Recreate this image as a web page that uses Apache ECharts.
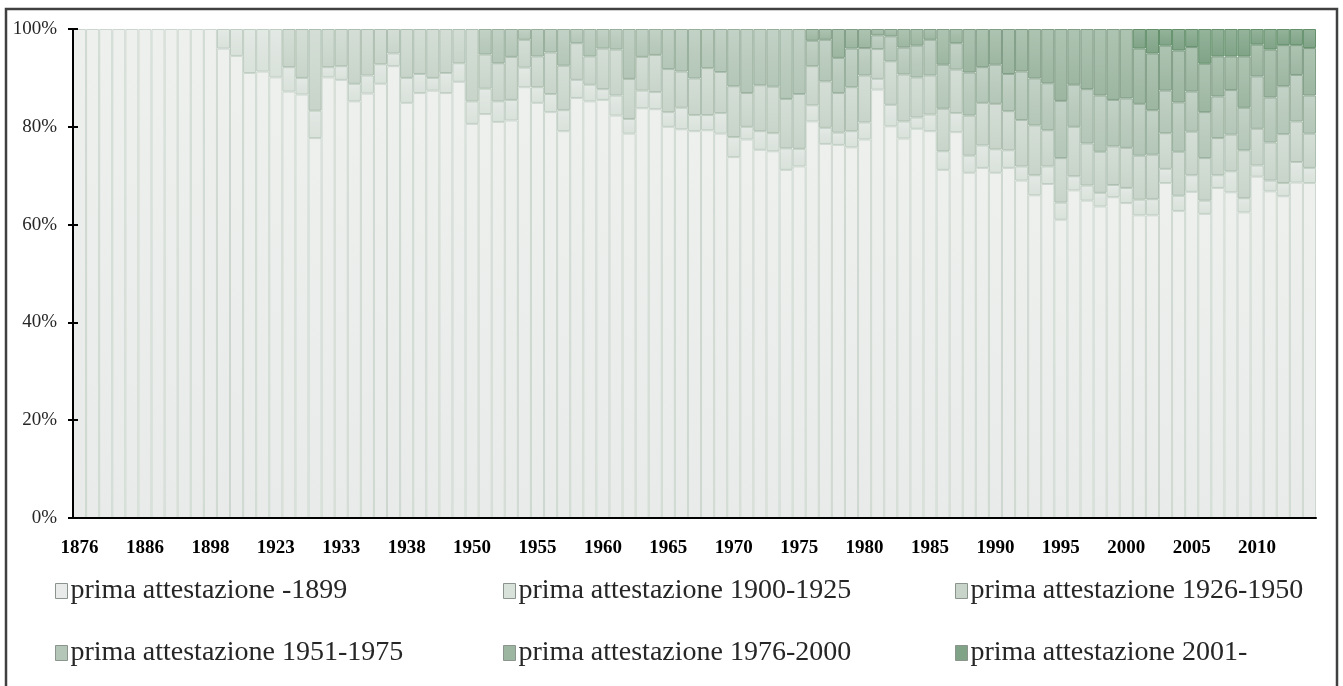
<!DOCTYPE html>
<html>
<head>
<meta charset="utf-8">
<script src="https://cdn.jsdelivr.net/npm/echarts@6/dist/echarts.min.js"></script>
<style>
html,body{margin:0;padding:0;background:#fff;}
#chart{width:1343px;height:686px;}
</style>
</head>
<body>
<div id="chart"></div>
<script>
// Categories (years); only every 5th label is visible in the original
var years = [
  '1876','1878','1880','1882','1884','1886','1888','1890','1892','1895',
  '1898','1902','1908','1913','1918','1923','1925','1927','1929','1931',
  '1933','1934','1935','1936','1937','1938','1940','1945','1947','1949',
  '1950','1951','1952','1953','1954','1955','1956','1957','1958','1959',
  '1960','1961','1962','1963','1964','1965','1966','1967','1968','1969',
  '1970','1971','1972','1973','1974','1975','1976','1977','1978','1979',
  '1980','1981','1982','1983','1984','1985','1986','1987','1988','1989',
  '1990','1991','1992','1993','1994','1995','1996','1997','1998','1999',
  '2000','2001','2002','2003','2004','2005','2006','2007','2008','2009',
  '2010','2011','2012','2013','2014'
];

var seriesNames = [
  'prima attestazione -1899',
  'prima attestazione 1900-1925',
  'prima attestazione 1926-1950',
  'prima attestazione 1951-1975',
  'prima attestazione 1976-2000',
  'prima attestazione 2001-'
];

var s1899 = [
  100,100,100,100,100,100,100,100,100,100,
  100,96.0,94.5,91.0,91.3,90.1,87.2,86.6,77.7,90.1,
  89.6,85.2,86.8,88.8,92.4,84.9,86.9,87.4,86.9,89.2,
  80.6,82.6,81.0,81.3,88.1,84.9,83.0,79.1,85.9,85.2,
  85.5,82.3,78.6,83.8,83.6,80.0,79.5,79.1,79.3,78.6,
  73.8,77.4,75.3,75.0,71.2,71.9,81.1,76.5,76.3,75.8,
  77.4,87.6,80.1,77.6,79.6,79.1,71.2,78.9,70.6,71.6,
  70.6,71.6,69.0,66.0,68.3,61.0,67.0,64.9,63.7,65.6,
  64.4,61.9,61.9,68.5,62.8,66.7,62.2,67.5,66.6,62.5,
  69.8,66.8,65.8,68.6,68.5
];
var s1925 = [
  0,0,0,0,0,0,0,0,0,0,
  0,4.0,5.5,9.0,8.7,9.9,5.0,3.4,5.6,2.1,
  2.8,3.6,3.7,4.0,2.6,5.1,3.9,2.6,4.1,3.8,
  4.6,5.2,4.2,4.2,4.0,3.2,3.7,4.3,3.7,3.4,
  2.2,4.1,3.0,3.6,3.5,3.0,4.4,3.3,3.1,4.2,
  4.1,2.6,3.8,3.7,4.4,3.6,3.3,3.3,2.5,3.3,
  3.5,2.2,4.4,3.5,2.3,3.4,3.8,3.9,3.5,4.6,
  4.8,3.6,2.9,4.1,3.6,3.5,2.9,3.1,2.8,2.5,
  3.1,3.2,3.3,2.9,3.1,3.4,2.7,2.6,4.3,2.9,
  2.3,2.2,2.7,4.2,3.1
];
var s1950 = [
  0,0,0,0,0,0,0,0,0,0,
  0,0,0,0,0,0,7.8,10.0,16.7,7.8,
  7.6,11.2,9.5,7.2,5.0,10.0,9.2,10.0,9.0,7.0,
  14.8,7.0,7.8,8.8,5.7,6.3,8.5,9.1,7.5,5.8,
  8.3,9.4,8.2,6.9,7.6,8.8,7.4,7.5,9.6,8.4,
  10.4,6.9,9.4,9.5,10.1,11.2,8.0,9.5,8.1,9.0,
  9.6,6.1,8.9,9.6,8.2,8.0,8.7,8.9,8.2,8.7,
  9.3,8.0,9.5,10.2,7.4,9.1,10.1,8.6,8.4,7.9,
  8.2,9.0,9.1,7.3,9.0,8.9,8.7,7.6,7.5,9.8,
  7.5,7.8,10.0,8.3,7.0
];
var s1975 = [
  0,0,0,0,0,0,0,0,0,0,
  0,0,0,0,0,0,0,0,0,0,
  0,0,0,0,0,0,0,0,0,0,
  0,5.2,7.0,5.7,2.2,5.6,4.8,7.5,2.9,5.6,
  4.0,4.2,10.2,5.7,5.3,8.2,8.7,10.1,8.0,8.8,
  11.7,13.1,11.5,11.8,14.3,13.3,5.2,8.5,7.2,7.9,
  5.6,2.8,5.1,5.5,6.5,7.3,9.0,5.4,8.8,7.3,
  8.0,7.6,9.9,9.6,9.6,11.7,8.6,11.1,11.5,9.5,
  10.1,10.6,9.1,8.7,10.1,8.2,9.4,8.5,9.1,8.7,
  10.7,9.2,9.8,9.5,7.8
];
var s2000 = [
  0,0,0,0,0,0,0,0,0,0,
  0,0,0,0,0,0,0,0,0,0,
  0,0,0,0,0,0,0,0,0,0,
  0,0,0,0,0,0,0,0,0,0,
  0,0,0,0,0,0,0,0,0,0,
  0,0,0,0,0,0,2.4,2.2,5.9,4.0,
  3.9,1.3,1.5,3.8,3.4,2.2,7.3,2.9,8.9,7.8,
  7.3,9.2,8.7,10.1,11.1,14.7,11.4,12.3,13.6,14.5,
  14.2,11.3,11.6,9.2,10.6,9.1,9.9,8.2,6.9,10.5,
  6.5,9.8,8.4,6.1,9.7
];
var s2001 = [
  0,0,0,0,0,0,0,0,0,0,
  0,0,0,0,0,0,0,0,0,0,
  0,0,0,0,0,0,0,0,0,0,
  0,0,0,0,0,0,0,0,0,0,
  0,0,0,0,0,0,0,0,0,0,
  0,0,0,0,0,0,0,0,0,0,
  0,0,0,0,0,0,0,0,0,0,
  0,0,0,0,0,0,0,0,0,0,
  0,4.0,5.0,3.4,4.4,3.7,7.1,5.6,5.6,5.6,
  3.2,4.2,3.3,3.3,3.9
];
var yTicks = ['0%','20%','40%','60%','80%','100%'];

var seriesData = [s1899, s1925, s1950, s1975, s2000, s2001];
var fills   = ['#e8ebe9','#d9e1db','#c8d4ca','#b3c6b7','#9cb6a1','#80a387'];
var tops    = ['#eef0ee','#e3e9e4','#d4ded6','#c3d2c6','#aec4b2','#95b49b'];
var borders = ['#cdd7cf','#bfcdc2','#adbfb0','#98af9c','#809d86','#63906b'];

var chart = echarts.init(document.getElementById('chart'), null, {renderer:'canvas'});

var series = seriesData.map(function(arr, k){
  return {
    name: seriesNames[k],
    type: 'bar',
    stack: 'total',
    barCategoryGap: 0,
    barGap: 0,
    data: arr.map(function(v){ return v > 0 ? v : '-'; }),
    itemStyle: {
      color: new echarts.graphic.LinearGradient(0,0,0,1,[
        {offset:0,color:tops[k]},{offset:1,color:fills[k]}
      ]),
      borderColor: borders[k],
      borderWidth: 1
    },
    emphasis: {disabled: true},
    z: 2
  };
});

var legendPos = [
  {left: 50, top: 572},
  {left: 498, top: 572},
  {left: 950, top: 572},
  {left: 50, top: 634},
  {left: 498, top: 634},
  {left: 950, top: 634}
];
var legends = seriesNames.map(function(n, k){
  return {
    data: [{name: n, itemStyle: {color: fills[k], borderColor: '#8c948e', borderWidth: 1}}],
    left: legendPos[k].left,
    top: legendPos[k].top,
    icon: 'rect',
    itemWidth: 12,
    itemHeight: 15,
    itemGap: 4,
    selectedMode: false,
    textStyle: {fontFamily: 'Liberation Serif', fontSize: 28, color: '#262626', padding: [0,0,0,-2]}
  };
});

var option = {
  animation: false,
  backgroundColor: '#ffffff',
  grid: {left: 73, right: 27, top: 29, bottom: 168, containLabel: false},
  legend: legends,
  xAxis: {
    type: 'category',
    data: years,
    boundaryGap: true,
    axisLine: {show: true, lineStyle: {color: '#000', width: 2}},
    axisTick: {show: false},
    axisLabel: {
      interval: 4,
      margin: 21,
      fontFamily: 'Liberation Serif',
      fontWeight: 'bold',
      fontSize: 19,
      color: '#000'
    },
    splitLine: {show: false},
    z: 5
  },
  yAxis: [{
    type: 'value',
    min: 0,
    max: 100,
    interval: 20,
    axisLine: {show: true, lineStyle: {color: '#000', width: 2}},
    axisTick: {show: true, length: 5, lineStyle: {color: '#000', width: 2}},
    axisLabel: {
      margin: 16,
      fontFamily: 'Liberation Serif',
      fontSize: 19,
      color: '#262626',
      formatter: function(v){ return yTicks[Math.round(v/20)]; }
    },
    splitLine: {show: false},
    z: 5
  },{
    type: 'value',
    min: 0,
    max: 100,
    interval: 20,
    position: 'left',
    axisLine: {show: false},
    axisTick: {show: true, inside: true, length: 5, lineStyle: {color: '#000', width: 2}},
    axisLabel: {show: false},
    splitLine: {show: false},
    z: 5
  }],
  graphic: [{
    type: 'rect',
    shape: {x: 6, y: 9, width: 1331, height: 720},
    style: {fill: 'none', stroke: '#404040', lineWidth: 2.5},
    silent: true,
    z: 100
  }],
  series: series
};
chart.setOption(option);
</script>
</body>
</html>
